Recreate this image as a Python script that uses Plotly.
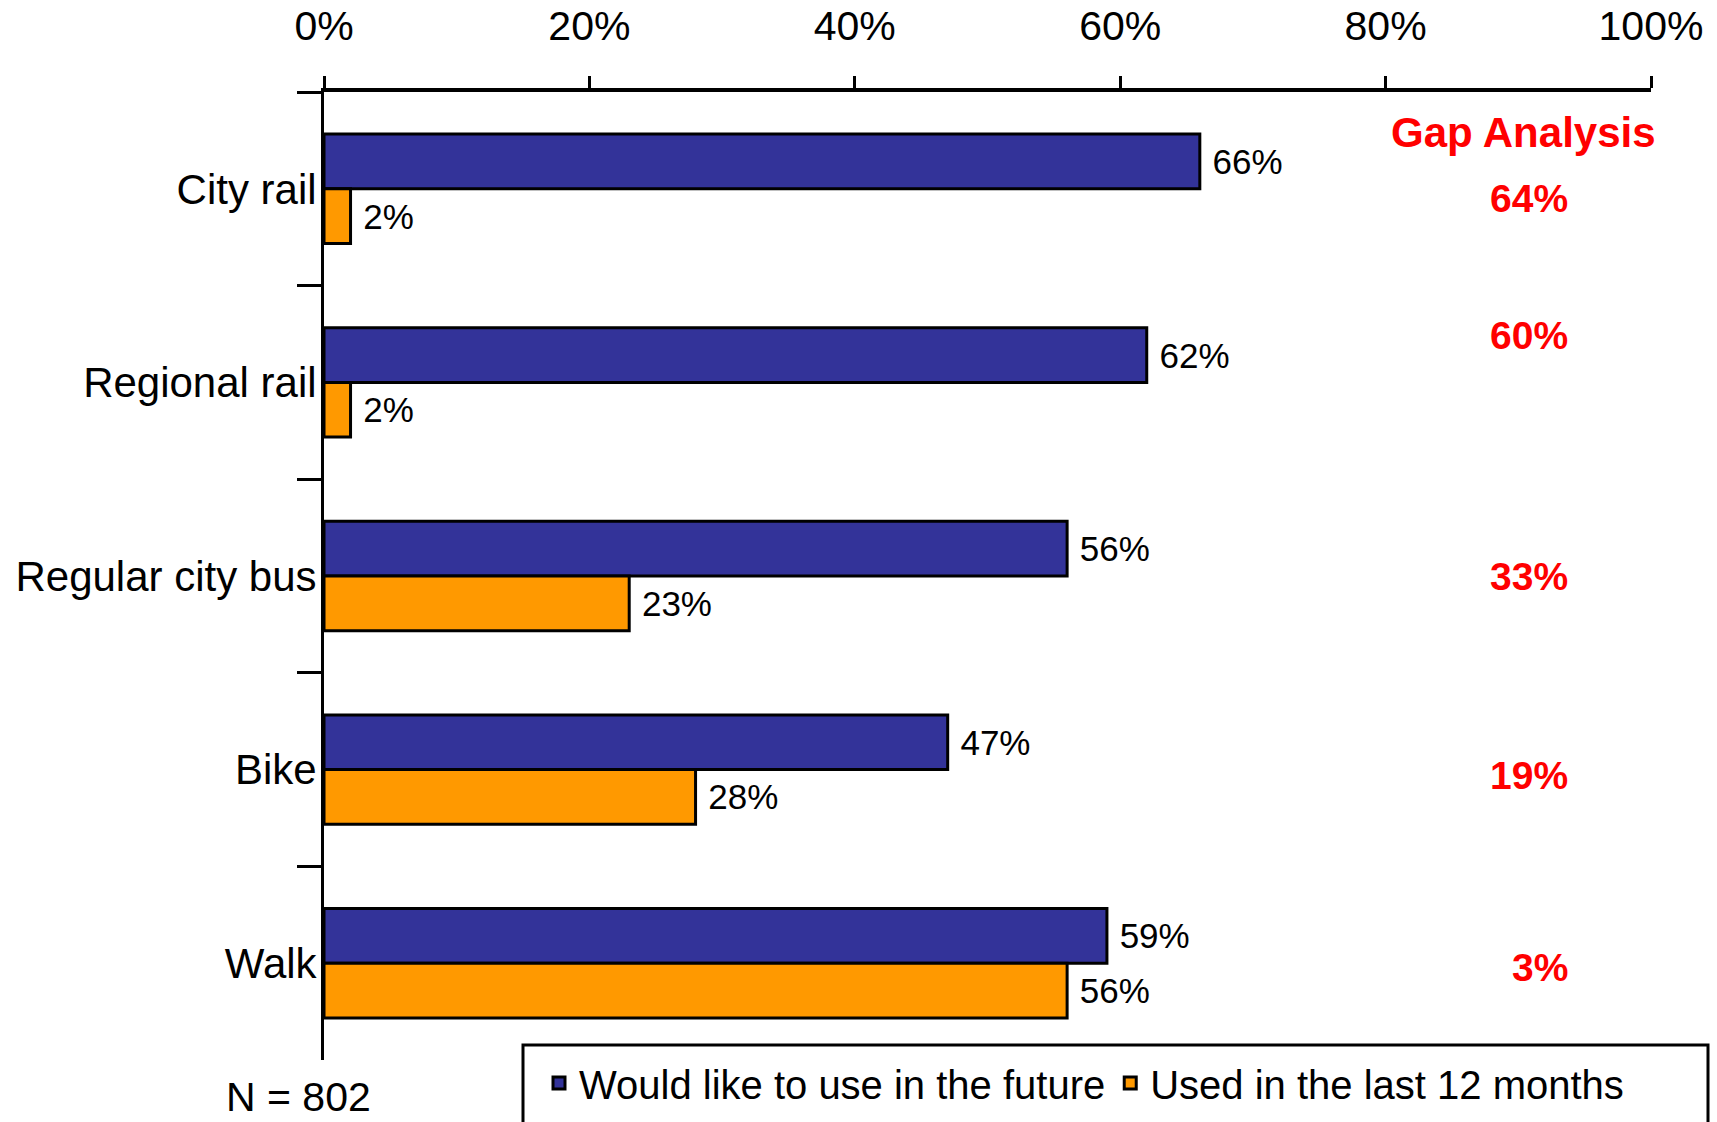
import plotly.graph_objects as go

# ---------------- data ----------------
categories = ["City rail", "Regional rail", "Regular city bus", "Bike", "Walk"]
future = [66, 62, 56, 47, 59]
used = [2, 2, 23, 28, 56]
gap = [f - u for f, u in zip(future, used)]
x_ticks = [0, 20, 40, 60, 80, 100]
x_tick_labels = [f"{v}%" for v in x_ticks]
series_names = ["Would like to use in the future", "Used in the last 12 months"]
gap_title = "Gap Analysis"
sample_note = "N = 802"

# ---------------- layout / style ----------------
W, H = 1717, 1122
L, R, T, B = 324, 66, 92, 62
FONT = "Liberation Sans, Arial, sans-serif"
BLUE = "#333399"
ORANGE = "#FF9900"
RED = "#FF0000"
gap_y_shift = [0.05, -0.24, 0.0, 0.03, 0.02]
plot_w = W - L - R
plot_h = H - T - B


def px_x(p):
    return (p - L) / plot_w


def px_y(p):
    return (H - B - p) / plot_h


fig = go.Figure()
fig.add_trace(go.Bar(
    y=categories, x=future, orientation="h", name=series_names[0],
    marker=dict(color=BLUE, line=dict(color="black", width=3)),
    text=[f"\u00a0{v}%" for v in future], textposition="outside",
    constraintext="none", cliponaxis=False,
    textfont=dict(size=35, color="black", family=FONT),
))
fig.add_trace(go.Bar(
    y=categories, x=used, orientation="h", name=series_names[1],
    marker=dict(color=ORANGE, line=dict(color="black", width=3)),
    text=[f"\u00a0{v}%" for v in used], textposition="outside",
    constraintext="none", cliponaxis=False,
    textfont=dict(size=35, color="black", family=FONT),
))

annotations = [dict(
    x=90.4, y=-0.29, xref="x", yref="y", text=f"<b>{gap_title}</b>",
    showarrow=False, xanchor="center", yanchor="middle",
    font=dict(size=42, color=RED, family=FONT),
)]
for i, g in enumerate(gap):
    annotations.append(dict(
        x=93.9, y=i + gap_y_shift[i], xref="x", yref="y", text=f"<b>{g}%</b>",
        showarrow=False, xanchor="right", yanchor="middle",
        font=dict(size=39, color=RED, family=FONT),
    ))
annotations.append(dict(
    x=px_x(224), y=px_y(1097), xref="paper", yref="paper", text=sample_note,
    showarrow=False, xanchor="left", yanchor="middle",
    font=dict(size=41, color="black", family=FONT),
))

fig.update_layout(
    template="none",
    width=W, height=H,
    margin=dict(l=L, r=R, t=T, b=B, autoexpand=False),
    paper_bgcolor="white", plot_bgcolor="white",
    barmode="group", bargap=0.435, bargroupgap=0,
    font=dict(family=FONT, color="black"),
    showlegend=True,
    legend=dict(
        orientation="h", x=px_x(539), y=px_y(1083), xanchor="left", yanchor="middle",
        xref="paper", yref="paper",
        font=dict(size=40, color="black", family=FONT),
        bgcolor="rgba(0,0,0,0)", borderwidth=0, traceorder="normal",
    ),
    annotations=annotations,
    shapes=[dict(
        type="rect", xref="paper", yref="paper",
        x0=px_x(523), x1=px_x(1708), y0=px_y(1045), y1=px_y(1140),
        line=dict(color="black", width=3), fillcolor="white", layer="above",
    )],
)

fig.update_xaxes(
    side="top", range=[0, 100], tickmode="array", tickvals=x_ticks, ticktext=x_tick_labels,
    showgrid=False, zeroline=False,
    showline=True, linecolor="black", linewidth=4,
    ticks="outside", ticklen=12, tickwidth=3, tickcolor="black",
    tickfont=dict(size=41, color="black", family=FONT),
    ticklabelstandoff=20, automargin=False, fixedrange=True,
)
fig.update_yaxes(
    type="category", categoryorder="array", categoryarray=categories,
    autorange="reversed",
    showgrid=False, zeroline=False,
    showline=True, linecolor="black", linewidth=3,
    ticks="outside", tickson="boundaries", ticklen=24, tickwidth=3, tickcolor="black",
    tickfont=dict(size=42, color="black", family=FONT),
    ticklabelstandoff=-4, automargin=False, fixedrange=True,
)

fig.write_html("out.html")
